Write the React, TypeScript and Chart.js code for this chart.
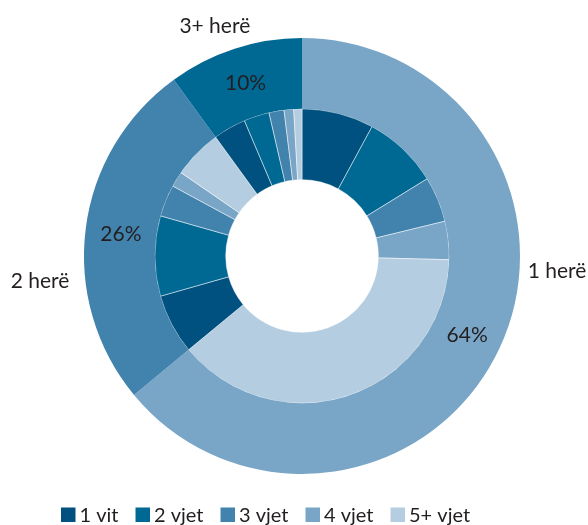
import React, { useEffect, useRef } from "react";
import { Chart, registerables } from "chart.js";

Chart.register(...registerables);

// Legend categories (inner ring)
const legendLabels = ["1 vit", "2 vjet", "3 vjet", "4 vjet", "5+ vjet"];
// Outer ring groups
const groupLabels = ["1 herë", "2 herë", "3+ herë"];
const groupValues = [64, 26, 10];
// Inner ring values by group (shares of total, %)
const inner1Here = [7.9, 8.3, 5.0, 4.2, 38.6];
const inner2Here = [6.6, 8.8, 3.5, 1.7, 5.4];
const inner3Here = [3.6, 2.8, 1.65, 1.05, 0.9];

const shadeColors = ["#00517F", "#006993", "#4283AE", "#79A6C7", "#B4CDE0"];
const groupColors = ["#79A6C7", "#4283AE", "#006993"];
const TEXT_COLOR = "#231F20";
const FONT = "21px Lato";
const LEGEND_FONT = "20px Lato";

const labelsPlugin = {
  id: "customLabels",
  afterDraw(chart: any) {
    const ctx = chart.ctx as CanvasRenderingContext2D;
    const meta = chart.getDatasetMeta(0);
    ctx.save();
    ctx.font = FONT;
    ctx.fillStyle = TEXT_COLOR;
    ctx.textAlign = "center";
    ctx.textBaseline = "alphabetic";
    let cx = 0, cy = 0, R = 0;
    meta.data.forEach((arc: any, i: number) => {
      const mid = (arc.startAngle + arc.endAngle) / 2;
      const r = (arc.innerRadius + arc.outerRadius) / 2;
      cx = arc.x; cy = arc.y; R = arc.outerRadius;
      ctx.fillText(groupValues[i] + "%", arc.x + Math.cos(mid) * r, arc.y + Math.sin(mid) * r + 8);
    });
    // group name labels outside the ring
    const rel = [
      [1.17, 0.1],
      [-1.202, 0.146],
      [-0.4, -1.023],
    ];
    groupLabels.forEach((t, i) => {
      ctx.fillText(t, cx + rel[i][0] * R, cy + rel[i][1] * R);
    });

    // legend
    ctx.font = LEGEND_FONT;
    const boxSize = 14.5;
    const gapText = 4;
    const gapItem = 17;
    const widths = legendLabels.map((t) => ctx.measureText(t).width);
    let x = 61;
    const boxTop = 507.5;
    const baseline = 522;
    ctx.textAlign = "left";
    legendLabels.forEach((t, i) => {
      ctx.fillStyle = shadeColors[i];
      ctx.fillRect(x, boxTop, boxSize, boxSize);
      ctx.fillStyle = TEXT_COLOR;
      ctx.fillText(t, x + boxSize + gapText, baseline);
      x += boxSize + gapText + widths[i] + gapItem;
    });
    ctx.restore();
  },
};

export default function App() {
  const ref = useRef<HTMLCanvasElement | null>(null);
  useEffect(() => {
    document.body.style.margin = "0";
    const canvas = ref.current;
    if (!canvas) return;
    const innerData = [...inner1Here, ...inner2Here, ...inner3Here];
    const innerColors = [...shadeColors, ...shadeColors, ...shadeColors];
    const innerLabels = [
      ...legendLabels.map((l) => groupLabels[0] + " - " + l),
      ...legendLabels.map((l) => groupLabels[1] + " - " + l),
      ...legendLabels.map((l) => groupLabels[2] + " - " + l),
    ];
    const chart = new Chart(canvas, {
      type: "doughnut",
      data: {
        labels: innerLabels,
        datasets: [
          {
            label: "Grupet",
            data: groupValues,
            backgroundColor: groupColors,
            borderWidth: 0,
          },
          {
            label: "Kohëzgjatja",
            data: innerData,
            backgroundColor: innerColors,
            borderColor: "rgba(255,255,255,0.6)",
            borderWidth: 0.8,
          },
        ],
      },
      options: {
        responsive: false,
        animation: false,
        events: [],
        cutout: "35%",
        layout: { padding: { left: 84, right: 68, top: 38, bottom: 51 } },
        plugins: {
          legend: { display: false },
          tooltip: { enabled: false },
          title: { display: false },
        },
      },
      plugins: [labelsPlugin],
    });
    return () => chart.destroy();
  }, []);
  return (
    <div style={{ position: "fixed", left: 0, top: 0, width: 588, height: 525, background: "#fff" }}>
      <canvas ref={ref} width={588} height={525} />
    </div>
  );
}
